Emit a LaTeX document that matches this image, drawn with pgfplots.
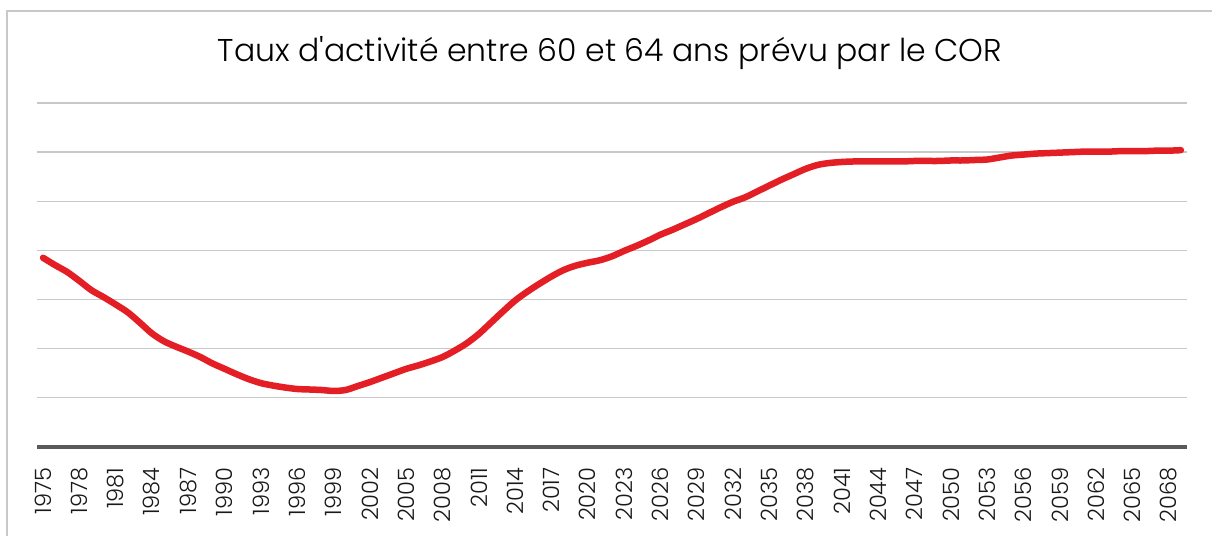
\documentclass[border=0pt]{standalone}
\usepackage{fontspec}
\setmainfont{Poppins}
\newfontfamily\titlefont{Poppins Light}
\usepackage{pgfplots}
\pgfplotsset{compat=1.18}
\definecolor{linered}{HTML}{E31E24}
\definecolor{gridgray}{HTML}{C8C8C8}
\definecolor{axisgray}{HTML}{595959}
\definecolor{framegray}{HTML}{C8C8C8}
\begin{document}
\begin{tikzpicture}[x=1bp,y=1bp]
\useasboundingbox (0,0) rectangle (1212,536);
\draw[framegray, line width=1.5bp] (7,0) -- (7,525) -- (1212,525);
\node[font=\titlefont\fontsize{31.5bp}{35bp}\selectfont] at (610,483) {Taux d'activité entre 60 et 64 ans prévu par le COR};
\begin{axis}[
  at={(37bp,89bp)}, anchor=south west,
  scale only axis, width=1150bp, height=344bp,
  xmin=1974.5, xmax=2069.5, ymin=0, ymax=70,
  axis x line*=bottom,
  y axis line style={draw=none},
  x axis line style={draw=axisgray, line width=3.5bp, -},
  xtick={1975,1978,...,2068},
  major tick length=0pt,
  ytick={10,20,...,70},
  yticklabels={},
  ymajorgrids,
  grid style={gridgray, line width=1.3bp},
  xticklabel style={yshift=-17bp, rotate=90, anchor=east, font=\titlefont\fontsize{22.5bp}{25bp}\selectfont, text=black!90},
  /pgf/number format/1000 sep={},
  /pgf/number format/assume math mode=true,
  clip=false,
]
\addplot[linered, line width=6.5bp, line cap=round, line join=round, smooth, tension=0.5] coordinates {
(1975,38.5) (1976,37.0) (1977,35.6) (1978,33.8) (1979,31.9) (1980,30.5)
(1981,29.0) (1982,27.4) (1983,25.3) (1984,23.1) (1985,21.5) (1986,20.4)
(1987,19.4) (1988,18.3) (1989,17.0) (1990,15.9) (1991,14.8) (1992,13.8)
(1993,13.0) (1994,12.5) (1995,12.1) (1996,11.8) (1997,11.7) (1998,11.6)
(1999,11.4) (2000,11.6) (2001,12.4) (2002,13.2) (2003,14.1) (2004,15.0)
(2005,15.9) (2006,16.6) (2007,17.4) (2008,18.3) (2009,19.6) (2010,21.1)
(2011,23.0) (2012,25.3) (2013,27.6) (2014,29.8) (2015,31.6) (2016,33.2)
(2017,34.7) (2018,36.0) (2019,36.9) (2020,37.5) (2021,38.0) (2022,38.8)
(2023,39.9) (2024,40.9) (2025,42.0) (2026,43.2) (2027,44.2) (2028,45.3)
(2029,46.4) (2030,47.6) (2031,48.8) (2032,49.9) (2033,50.8) (2034,52.0)
(2035,53.2) (2036,54.4) (2037,55.5) (2038,56.6) (2039,57.4) (2040,57.8)
(2041,58.0) (2042,58.1) (2043,58.1) (2044,58.1) (2045,58.1) (2046,58.1)
(2047,58.2) (2048,58.2) (2049,58.2) (2050,58.3) (2051,58.3) (2052,58.4)
(2053,58.5) (2054,58.9) (2055,59.3) (2056,59.5) (2057,59.7) (2058,59.8)
(2059,59.9) (2060,60.0) (2061,60.1) (2062,60.1) (2063,60.1) (2064,60.2)
(2065,60.2) (2066,60.2) (2067,60.3) (2068,60.3) (2069,60.4)
};
\end{axis}
\end{tikzpicture}
\end{document}
